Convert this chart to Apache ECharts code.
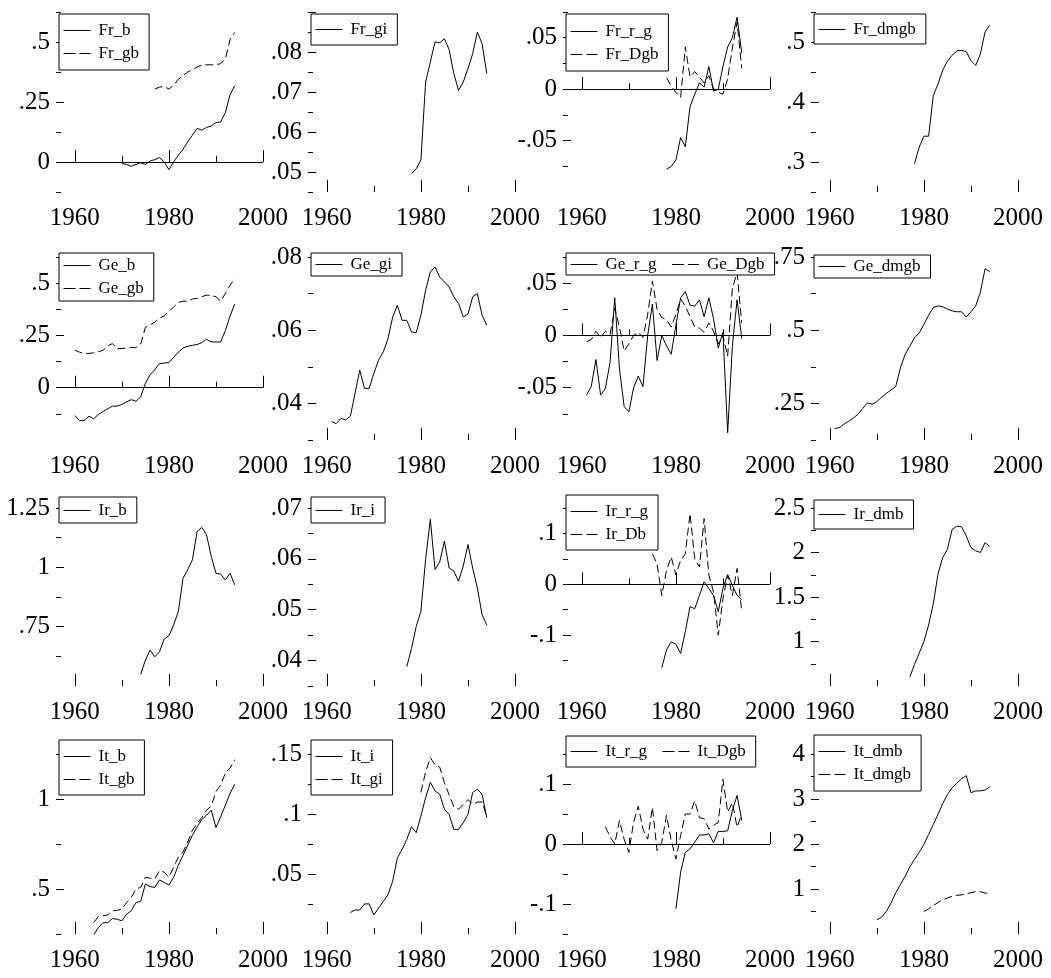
<!DOCTYPE html>
<html>
<head>
<meta charset="utf-8">
<title>Fr / Ge / Ir / It panels</title>
<script src="https://cdn.jsdelivr.net/npm/echarts@6/dist/echarts.min.js"></script>
<style>
  html, body { margin: 0; padding: 0; background: #fff; }
  #chart { width: 1051px; height: 978px; }
</style>
</head>
<body>
<div id="chart"></div>
<script>
// years on the x axis
const YEARS = [1960, 1961, 1962, 1963, 1964, 1965, 1966, 1967, 1968, 1969,
  1970, 1971, 1972, 1973, 1974, 1975, 1976, 1977, 1978, 1979,
  1980, 1981, 1982, 1983, 1984, 1985, 1986, 1987, 1988, 1989,
  1990, 1991, 1992, 1993, 1994];
const X_LABELS = [1960, 1980, 2000];
const X_MINOR = [1970, 1990];

// France (series start year in the *_start consts)
const Fr_b_start = 1970;
const Fr_b = [-0.007, -0.01, -0.018, -0.01, -0.003, -0.01, 0.004, 0.01, 0.018, 0.0,
  -0.032, 0.0, 0.028, 0.053, 0.084, 0.112, 0.14, 0.133, 0.144, 0.15,
  0.164, 0.167, 0.206, 0.28, 0.318];
const Fr_gb_start = 1977;
const Fr_gb = [0.304, 0.312, 0.315, 0.304, 0.32, 0.345, 0.36, 0.375, 0.385, 0.395,
  0.405, 0.405, 0.405, 0.405, 0.41, 0.43, 0.51, 0.54];
const Fr_gi_start = 1978;
const Fr_gi = [0.0496, 0.0508, 0.053, 0.0725, 0.0775, 0.0825, 0.0823, 0.0833, 0.0806, 0.0746,
  0.0704, 0.0725, 0.0758, 0.0796, 0.085, 0.0821, 0.0746];
const Fr_r_g_start = 1978;
const Fr_r_g = [-0.078, -0.075, -0.069, -0.047, -0.056, -0.017, -0.005, 0.006, 0.002, 0.022,
  -0.002, 0.0, 0.022, 0.041, 0.05, 0.07, 0.035];
const Fr_Dgb_start = 1978;
const Fr_Dgb = [0.011, 0.003, -0.003, -0.008, 0.041, 0.012, 0.017, 0.012, 0.006, 0.013,
  0.0, -0.003, -0.005, 0.01, 0.04, 0.065, 0.02];
const Fr_dmgb_start = 1978;
const Fr_dmgb = [0.297, 0.325, 0.343, 0.343, 0.411, 0.43, 0.453, 0.468, 0.478, 0.485,
  0.486, 0.484, 0.469, 0.461, 0.48, 0.517, 0.528];

// Germany
const Ge_b_start = 1960;
const Ge_b = [-0.133, -0.157, -0.157, -0.136, -0.149, -0.128, -0.114, -0.101, -0.088, -0.088,
  -0.08, -0.068, -0.057, -0.065, -0.044, 0.021, 0.062, 0.086, 0.115, 0.118,
  0.12, 0.145, 0.17, 0.19, 0.198, 0.203, 0.206, 0.216, 0.232, 0.219,
  0.219, 0.219, 0.273, 0.343, 0.4];
const Ge_gb_start = 1960;
const Ge_gb = [0.179, 0.17, 0.164, 0.164, 0.167, 0.172, 0.179, 0.2, 0.211, 0.187,
  0.187, 0.19, 0.192, 0.192, 0.208, 0.289, 0.3, 0.313, 0.333, 0.343,
  0.365, 0.386, 0.407, 0.414, 0.414, 0.424, 0.427, 0.435, 0.443, 0.44,
  0.435, 0.414, 0.451, 0.49, 0.525];
const Ge_gi_start = 1961;
const Ge_gi = [0.035, 0.0345, 0.0359, 0.0355, 0.0365, 0.0427, 0.0491, 0.0441, 0.0441,
  0.0482, 0.0518, 0.0541, 0.0577, 0.0636, 0.0668, 0.0627, 0.0627, 0.0595, 0.0593,
  0.0641, 0.0709, 0.0759, 0.0773, 0.0745, 0.0732, 0.0718, 0.0691, 0.0673, 0.0636,
  0.0644, 0.0691, 0.07, 0.0641, 0.0614];
const Ge_r_g_start = 1961;
const Ge_r_g = [-0.057, -0.049, -0.023, -0.057, -0.051, -0.026, 0.036, -0.032, -0.068,
  -0.073, -0.05, -0.039, -0.049, 0.0, 0.03, -0.024, 0.0, -0.01, -0.018,
  0.01, 0.036, 0.042, 0.029, 0.028, 0.034, 0.018, 0.036, 0.016, -0.012,
  0.003, -0.093, -0.01, 0.034, -0.003];
const Ge_Dgb_start = 1961;
const Ge_Dgb = [-0.006, -0.004, 0.004, -0.002, 0.004, 0.001, 0.026, 0.008, -0.015,
  -0.008, 0.0, 0.003, -0.002, 0.02, 0.052, 0.025, 0.017, 0.015, 0.008,
  0.02, 0.035, 0.028, 0.018, 0.008, 0.007, 0.003, 0.012, 0.004, -0.008,
  0.0, -0.02, 0.045, 0.06, 0.012];
const Ge_dmgb_start = 1961;
const Ge_dmgb = [0.164, 0.167, 0.179, 0.189, 0.2, 0.213, 0.233, 0.252, 0.247,
  0.256, 0.271, 0.284, 0.296, 0.307, 0.371, 0.417, 0.445, 0.474, 0.491,
  0.52, 0.551, 0.578, 0.583, 0.58, 0.572, 0.566, 0.563, 0.563, 0.545,
  0.563, 0.583, 0.629, 0.71, 0.70];

// Ireland
const Ir_b_start = 1974;
const Ir_b = [0.549, 0.609, 0.651, 0.623, 0.644, 0.698,
  0.712, 0.757, 0.813, 0.954, 0.99, 1.032, 1.151, 1.168, 1.137, 1.046,
  0.975, 0.971, 0.947, 0.975, 0.926];
const Ir_i_start = 1977;
const Ir_i = [0.0388, 0.0424, 0.0467,
  0.0497, 0.0599, 0.0678, 0.0579, 0.0594, 0.0635, 0.0582, 0.0576, 0.0556, 0.0586,
  0.0628, 0.0582, 0.0543, 0.049, 0.047];
const Ir_r_g_start = 1977;
const Ir_r_g = [-0.164, -0.129, -0.113,
  -0.118, -0.136, -0.093, -0.044, -0.048, -0.022, 0.005, -0.008, -0.022, -0.054,
  -0.008, 0.019, -0.002, -0.022, -0.03];
const Ir_Db_start = 1975;
const Ir_Db = [0.06, 0.04, -0.022, 0.027, 0.054,
  0.018, 0.047, 0.06, 0.139, 0.05, 0.034, 0.129, 0.018, -0.015, -0.1,
  -0.028, 0.018, -0.022, 0.031, -0.054];
const Ir_dmb_start = 1977;
const Ir_dmb = [0.6, 0.741, 0.87,
  1.0, 1.185, 1.426, 1.759, 1.944, 2.037, 2.259, 2.296, 2.289, 2.185,
  2.056, 2.019, 2.0, 2.111, 2.067];

// Italy
const It_b_start = 1964;
const It_b = [0.244, 0.285, 0.313, 0.313, 0.336, 0.332,
  0.323, 0.36, 0.379, 0.425, 0.431, 0.528, 0.513, 0.509, 0.55, 0.537,
  0.522, 0.565, 0.631, 0.687, 0.743, 0.799, 0.845, 0.886, 0.91, 0.938,
  0.841, 0.901, 0.966, 1.032, 1.082];
const It_gb_start = 1964;
const It_gb = [0.313, 0.347, 0.351, 0.356, 0.379, 0.382,
  0.388, 0.425, 0.453, 0.5, 0.509, 0.565, 0.56, 0.556, 0.603, 0.593,
  0.565, 0.621, 0.677, 0.705, 0.761, 0.827, 0.864, 0.897, 0.938, 0.961,
  1.041, 1.078, 1.144, 1.172, 1.218];
const It_i_start = 1965;
const It_i = [0.0179, 0.02, 0.02, 0.0251, 0.0251,
  0.0159, 0.0215, 0.0271, 0.0327, 0.0439, 0.0634, 0.0704, 0.0788, 0.0894, 0.0844,
  0.0983, 0.1137, 0.1263, 0.1193, 0.1165, 0.1039, 0.0997, 0.0872, 0.0872, 0.0927,
  0.0997, 0.1179, 0.1207, 0.1165, 0.0969];
const It_gi_start = 1980;
const It_gi = [0.118, 0.135, 0.147, 0.141, 0.139, 0.126, 0.116, 0.106, 0.104, 0.108,
  0.112, 0.108, 0.11, 0.11, 0.098];
const It_r_g_start = 1980;
const It_r_g = [-0.108, -0.047, -0.014, -0.008, 0.003, 0.015, 0.015, 0.017, 0.002, 0.021,
  0.021, 0.022, 0.056, 0.081, 0.039];
const It_Dgb_start = 1965;
const It_Dgb = [0.029, 0.012, 0.0, 0.039, 0.008,
  -0.014, 0.036, 0.063, 0.025, 0.008, 0.061, -0.011, 0.003, 0.048, 0.006,
  -0.025, 0.014, 0.05, 0.05, 0.072, 0.044, 0.042, 0.025, 0.031, 0.036,
  0.108, 0.053, 0.069, 0.028, 0.05];
const It_dmb_start = 1970;
const It_dmb = [0.315, 0.374, 0.5, 0.687, 0.911, 1.097, 1.283, 1.491, 1.655, 1.819,
  1.99, 2.214, 2.437, 2.66, 2.9, 3.1, 3.25, 3.35, 3.45, 3.52,
  3.14, 3.18, 3.18, 3.2, 3.27];
const It_dmgb_start = 1980;
const It_dmgb = [0.5, 0.56, 0.63, 0.7, 0.76, 0.8, 0.84, 0.86, 0.87, 0.89,
  0.92, 0.94, 0.94, 0.91, 0.9];

// labelled y values per panel (row by row)
const Y_LABELS = [
  [0, 0.25, 0.5], [0.05, 0.06, 0.07, 0.08], [-0.05, 0, 0.05], [0.3, 0.4, 0.5],
  [0, 0.25, 0.5], [0.04, 0.06, 0.08], [-0.05, 0, 0.05], [0.25, 0.5, 0.75],
  [0.75, 1, 1.25], [0.04, 0.05, 0.06, 0.07], [-0.1, 0, 0.1], [1, 1.5, 2, 2.5],
  [0.5, 1], [0.05, 0.1, 0.15], [-0.1, 0, 0.1], [1, 2, 3, 4]
];

const SERIES = {
  Fr_b: [Fr_b_start, Fr_b], Fr_gb: [Fr_gb_start, Fr_gb], Fr_gi: [Fr_gi_start, Fr_gi],
  Fr_r_g: [Fr_r_g_start, Fr_r_g], Fr_Dgb: [Fr_Dgb_start, Fr_Dgb], Fr_dmgb: [Fr_dmgb_start, Fr_dmgb],
  Ge_b: [Ge_b_start, Ge_b], Ge_gb: [Ge_gb_start, Ge_gb], Ge_gi: [Ge_gi_start, Ge_gi],
  Ge_r_g: [Ge_r_g_start, Ge_r_g], Ge_Dgb: [Ge_Dgb_start, Ge_Dgb], Ge_dmgb: [Ge_dmgb_start, Ge_dmgb],
  Ir_b: [Ir_b_start, Ir_b], Ir_i: [Ir_i_start, Ir_i], Ir_r_g: [Ir_r_g_start, Ir_r_g],
  Ir_Db: [Ir_Db_start, Ir_Db], Ir_dmb: [Ir_dmb_start, Ir_dmb],
  It_b: [It_b_start, It_b], It_gb: [It_gb_start, It_gb], It_i: [It_i_start, It_i],
  It_gi: [It_gi_start, It_gi], It_r_g: [It_r_g_start, It_r_g], It_Dgb: [It_Dgb_start, It_Dgb],
  It_dmb: [It_dmb_start, It_dmb], It_dmgb: [It_dmgb_start, It_dmgb]
};

// layout
const COL_LEFT = [56, 308, 563, 811];
const GRID_W = 207;
const ROW_TOP = [12, 257, 508, 754];
const ROW_BOTTOM = [192, 440, 686, 934];
const FONT = "'Liberation Serif', 'Times New Roman', serif";
const DASH = [8, 4];

// per panel: series, y range, label step, zero line, legend layout
const PANELS = [
  { names: ['Fr_b', 'Fr_gb'], min: -0.125, max: 0.625, step: 0.25, zero: true, lt: 14, pad: [8, 8] },
  { names: ['Fr_gi'], min: 0.045, max: 0.09, step: 0.01, lt: 14, pad: [7, 7] },
  { names: ['Fr_r_g', 'Fr_Dgb'], min: -0.1, max: 0.075, step: 0.05, zero: true, lt: 14, pad: [9, 8] },
  { names: ['Fr_dmgb'], min: 0.25, max: 0.55, step: 0.1, lt: 14, pad: [7, 6] },
  { names: ['Ge_b', 'Ge_gb'], min: -0.25, max: 0.625, step: 0.25, zero: true, lt: 253, pad: [4, 4] },
  { names: ['Ge_gi'], min: 0.03, max: 0.08, step: 0.02, lt: 253, pad: [3, 3] },
  { names: ['Ge_r_g', 'Ge_Dgb'], min: -0.1, max: 0.075, step: 0.05, zero: true, horiz: true, lt: 253, pad: [3, 2] },
  { names: ['Ge_dmgb'], min: 0.125, max: 0.75, step: 0.25, lt: 255, pad: [3, 3] },
  { names: ['Ir_b'], min: 0.5, max: 1.25, step: 0.25, lt: 497, pad: [5, 4] },
  { names: ['Ir_i'], min: 0.035, max: 0.07, step: 0.01, lt: 497, pad: [5, 4] },
  { names: ['Ir_r_g', 'Ir_Db'], min: -0.2, max: 0.15, step: 0.1, zero: true, lt: 495, pad: [8, 7] },
  { names: ['Ir_dmb'], min: 0.5, max: 2.5, step: 0.5, lt: 500, pad: [6, 6] },
  { names: ['It_b', 'It_gb'], min: 0.25, max: 1.25, step: 0.5, lt: 740, pad: [8, 7] },
  { names: ['It_i', 'It_gi'], min: 0, max: 0.15, step: 0.05, lt: 740, pad: [8, 7] },
  { names: ['It_r_g', 'It_Dgb'], min: -0.15, max: 0.15, step: 0.1, zero: true, horiz: true, lt: 736, pad: [7, 7] },
  { names: ['It_dmb', 'It_dmgb'], min: 0, max: 4, step: 1, lt: 735, pad: [8, 8] }
];

function rnd(v) { return Math.round(v * 1e6) / 1e6; }
function fmt(v) { return String(rnd(v)).replace(/^(-?)0\./, '$1.'); }

// major ticks at multiples of step (not at the bottom edge), minor ones halfway
function yTicks(p) {
  const half = p.step / 2, major = [], minor = [];
  for (let k = Math.ceil(rnd(p.min / half)); k <= Math.floor(rnd(p.max / half)); k++) {
    const v = rnd(k * half);
    if (k % 2 === 0) { if (v > p.min) major.push(v); } else minor.push(v);
  }
  return { major, minor };
}

function pairs(name) {
  const [start, vals] = SERIES[name];
  const yrs = YEARS.slice(YEARS.indexOf(start));
  return vals.map((v, i) => [yrs[i], v]);
}

const option = {
  animation: false,
  backgroundColor: '#fff',
  grid: [], xAxis: [], yAxis: [], legend: [], series: []
};

PANELS.forEach((p, i) => {
  const r = Math.floor(i / 4), c = i % 4;
  const ticks = yTicks(p);
  option.grid.push({ left: COL_LEFT[c], top: ROW_TOP[r], width: GRID_W, height: ROW_BOTTOM[r] - ROW_TOP[r] });

  const xBase = { gridIndex: i, type: 'value', position: 'bottom', min: 1956, max: 2000,
    axisLine: { show: false }, splitLine: { show: false } };
  option.xAxis.push(Object.assign({}, xBase, {
    axisTick: { inside: true, length: 12, customValues: X_LABELS, lineStyle: { color: '#000', width: 1 } },
    axisLabel: { customValues: X_LABELS, margin: 14, fontSize: 25, fontFamily: FONT, color: '#000',
      formatter: v => String(v) }
  }));
  option.xAxis.push(Object.assign({}, xBase, {
    axisTick: { inside: true, length: 6, customValues: X_MINOR, lineStyle: { color: '#000', width: 1 } },
    axisLabel: { show: false }
  }));

  const yBase = { gridIndex: i, type: 'value', position: 'left', min: p.min, max: p.max,
    axisLine: { show: false }, splitLine: { show: false } };
  option.yAxis.push(Object.assign({}, yBase, {
    axisTick: { inside: true, length: 8, customValues: ticks.major, lineStyle: { color: '#000', width: 1 } },
    axisLabel: { customValues: Y_LABELS[i], margin: 6, fontSize: 25, fontFamily: FONT, color: '#000',
      formatter: fmt }
  }));
  option.yAxis.push(Object.assign({}, yBase, {
    axisTick: { inside: true, length: 5, customValues: ticks.minor, lineStyle: { color: '#000', width: 1 } },
    axisLabel: { show: false }
  }));

  option.legend.push({
    data: p.names.map((n, j) => ({ name: n, lineStyle: { type: j === 0 ? 'solid' : [12, 4] } })),
    left: COL_LEFT[c] + 3,
    top: p.lt,
    orient: p.horiz ? 'horizontal' : 'vertical',
    selectedMode: false,
    backgroundColor: '#fff',
    borderColor: '#000',
    borderWidth: 1,
    borderRadius: 0,
    padding: [p.pad[0], 10, p.pad[1], 4],
    itemGap: p.horiz ? 15 : 6,
    itemWidth: 27,
    itemHeight: 14,
    itemStyle: { opacity: 0 },
    lineStyle: { width: 1 },
    textStyle: { fontFamily: FONT, fontSize: 17, lineHeight: 17, color: '#000', padding: [0, 0, 0, 3] }
  });

  p.names.forEach((name, j) => {
    const s = {
      name: name,
      type: 'line',
      xAxisIndex: 2 * i,
      yAxisIndex: 2 * i,
      data: pairs(name),
      symbol: 'none',
      silent: true,
      lineStyle: { color: '#000', width: 1, type: j === 0 ? 'solid' : DASH },
      itemStyle: { color: '#000' }
    };
    if (j === 0 && p.zero) {
      s.markLine = {
        silent: true, symbol: 'none', label: { show: false },
        lineStyle: { color: '#000', width: 1, type: 'solid' },
        data: [{ yAxis: 0 }]
      };
    }
    option.series.push(s);
  });
});

const chart = echarts.init(document.getElementById('chart'), null, { renderer: 'canvas' });
chart.setOption(option);
</script>
</body>
</html>
